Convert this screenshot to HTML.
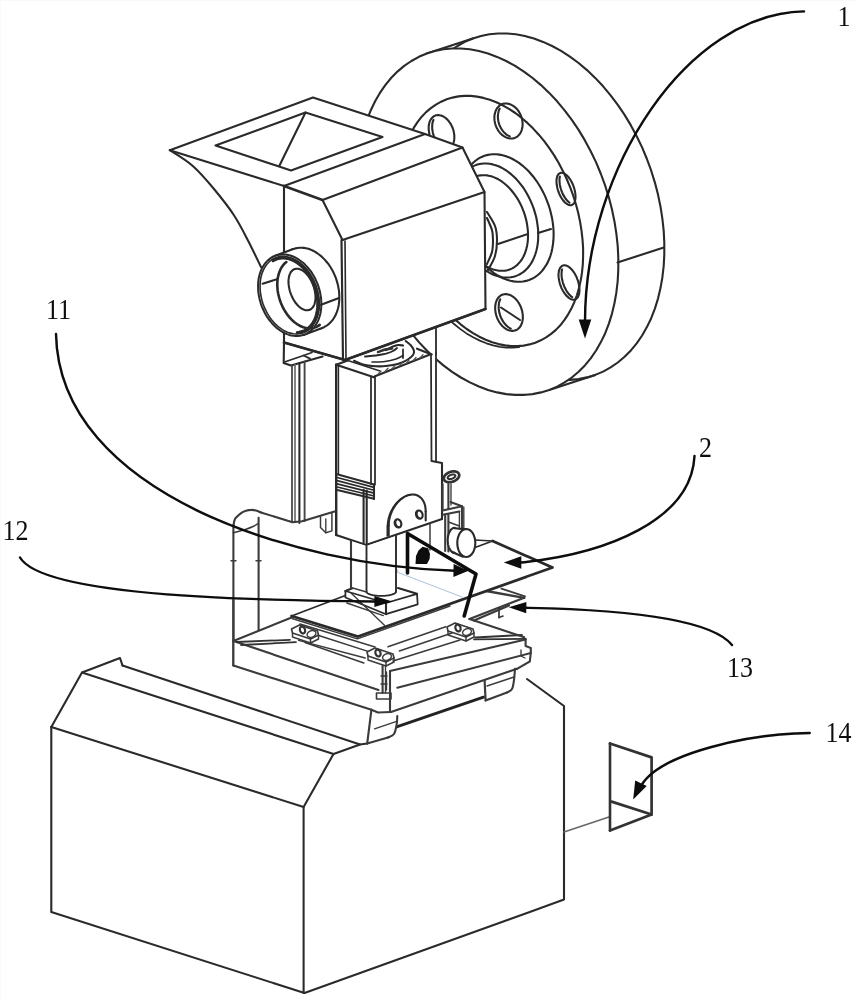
<!DOCTYPE html>
<html><head><meta charset="utf-8"><title>Figure</title>
<style>
html,body{margin:0;padding:0;background:#fff;}
body{width:856px;height:1000px;overflow:hidden;}
svg{display:block;}
svg path{stroke-linecap:round;stroke-linejoin:round;}
svg text{font-family:"Liberation Serif","DejaVu Serif",serif;}
</style></head><body>
<svg width="856" height="1000" viewBox="0 0 856 1000" fill="none">
<defs><filter id="soft" x="-2%" y="-2%" width="104%" height="104%"><feGaussianBlur stdDeviation="0.35"/></filter></defs>
<rect x="0" y="0" width="856" height="1000" fill="#ffffff" stroke="none"/>
<rect x="0" y="0" width="856" height="1" fill="#f8f8f8" stroke="none"/><rect x="0" y="0" width="1" height="1000" fill="#fafafa" stroke="none"/>
<g filter="url(#soft)">
<path d="M595.2,374.9 L587.0,377.4 L578.6,379.1 L570.0,379.9 L561.1,379.9 L552.2,379.1 L543.1,377.4 L534.0,374.9 L524.9,371.5 L515.9,367.4 L506.9,362.5 L498.1,356.8 L489.4,350.4 L481.0,343.3 L472.8,335.5 L464.9,327.1 L457.4,318.1 L450.2,308.6 L443.4,298.5 L437.1,288.0 L431.3,277.2 L425.9,266.0 L421.1,254.4 L416.8,242.7 L413.1,230.8 L410.0,218.8 L407.5,206.7 L405.6,194.6 L404.3,182.5 L403.7,170.6 L403.7,158.9 L404.3,147.4 L405.6,136.2 L407.5,125.3 L410.0,114.8 L413.1,104.8 L416.8,95.2 L421.1,86.3 L425.9,77.9 L431.3,70.1 L437.1,63.0 L443.4,56.6 L450.2,50.9 L457.4,46.0 L464.9,41.8 L472.8,38.5 L481.0,36.0 L489.4,34.3 L498.0,33.5 L506.9,33.5 L515.8,34.3 L524.9,36.0 L534.0,38.5 L543.1,41.9 L552.1,46.0 L561.1,50.9 L569.9,56.6 L578.6,63.0 L587.0,70.1 L595.2,77.9 L603.1,86.3 L610.6,95.3 L617.8,104.8 L624.6,114.9 L630.9,125.4 L636.7,136.2 L642.1,147.4 L646.9,159.0 L651.2,170.7 L654.9,182.6 L658.0,194.6 L660.5,206.7 L662.4,218.8 L663.7,230.9 L664.3,242.8 L664.3,254.5 L663.7,266.0 L662.4,277.2 L660.5,288.1 L658.0,298.6 L654.9,308.6 L651.2,318.2 L646.9,327.1 L642.1,335.5 L636.7,343.3 L630.9,350.4 L624.6,356.8 L617.8,362.5 L610.6,367.4 L603.1,371.6 L595.2,374.9Z" stroke="#2a2a2a" stroke-width="2.0925000000000002" />
<path d="M549.2,389.9 L595.2,374.9" stroke="#2a2a2a" stroke-width="2.0925000000000002" />
<path d="M426.8,53.5 L472.8,38.5" stroke="#2a2a2a" stroke-width="2.0925000000000002" />
<path d="M549.2,389.9 L541.0,392.4 L532.6,394.1 L524.0,394.9 L515.1,394.9 L506.2,394.1 L497.1,392.4 L488.0,389.9 L478.9,386.5 L469.9,382.4 L460.9,377.5 L452.1,371.8 L443.4,365.4 L435.0,358.3 L426.8,350.5 L418.9,342.1 L411.4,333.1 L404.2,323.6 L397.4,313.5 L391.1,303.0 L385.3,292.2 L379.9,281.0 L375.1,269.4 L370.8,257.7 L367.1,245.8 L364.0,233.8 L361.5,221.7 L359.6,209.6 L358.3,197.5 L357.7,185.6 L357.7,173.9 L358.3,162.4 L359.6,151.2 L361.5,140.3 L364.0,129.8 L367.1,119.8 L370.8,110.2 L375.1,101.3 L379.9,92.9 L385.3,85.1 L391.1,78.0 L397.4,71.6 L404.2,65.9 L411.4,61.0 L418.9,56.8 L426.8,53.5 L435.0,51.0 L443.4,49.3 L452.0,48.5 L460.9,48.5 L469.8,49.3 L478.9,51.0 L488.0,53.5 L497.1,56.9 L506.1,61.0 L515.1,65.9 L523.9,71.6 L532.6,78.0 L541.0,85.1 L549.2,92.9 L557.1,101.3 L564.6,110.3 L571.8,119.8 L578.6,129.9 L584.9,140.4 L590.7,151.2 L596.1,162.4 L600.9,174.0 L605.2,185.7 L608.9,197.6 L612.0,209.6 L614.5,221.7 L616.4,233.8 L617.7,245.9 L618.3,257.8 L618.3,269.5 L617.7,281.0 L616.4,292.2 L614.5,303.1 L612.0,313.6 L608.9,323.6 L605.2,333.2 L600.9,342.1 L596.1,350.5 L590.7,358.3 L584.9,365.4 L578.6,371.8 L571.8,377.5 L564.6,382.4 L557.1,386.6 L549.2,389.9Z" stroke="#2a2a2a" stroke-width="2.0925000000000002" fill="#fff"/>
<path d="M617.5,262.5 L663.8,247.5" stroke="#2a2a2a" stroke-width="2.0925000000000002" />
<path d="M535.3,342.7 L529.5,344.4 L523.6,345.6 L517.5,346.1 L511.3,346.1 L505.0,345.4 L498.6,344.1 L492.2,342.3 L485.7,339.8 L479.3,336.7 L473.0,333.1 L466.7,329.0 L460.6,324.3 L454.6,319.1 L448.8,313.4 L443.2,307.3 L437.8,300.8 L432.7,293.9 L427.8,286.6 L423.3,279.0 L419.1,271.1 L415.3,263.0 L411.8,254.6 L408.7,246.1 L406.0,237.5 L403.7,228.8 L401.9,220.1 L400.5,211.4 L399.5,202.7 L398.9,194.1 L398.9,185.6 L399.2,177.3 L400.0,169.3 L401.3,161.4 L403.0,153.9 L405.1,146.7 L407.7,139.8 L410.6,133.4 L414.0,127.4 L417.7,121.8 L421.7,116.7 L426.1,112.1 L430.9,108.1 L435.9,104.6 L441.2,101.7 L446.7,99.3 L452.5,97.6 L458.4,96.4 L464.5,95.9 L470.7,95.9 L477.0,96.6 L483.4,97.9 L489.8,99.7 L496.3,102.2 L502.7,105.3 L509.0,108.9 L515.3,113.0 L521.4,117.7 L527.4,122.9 L533.2,128.6 L538.8,134.7 L544.2,141.2 L549.3,148.1 L554.2,155.4 L558.7,163.0 L562.9,170.9 L566.7,179.0 L570.2,187.4 L573.3,195.9 L576.0,204.5 L578.3,213.2 L580.1,221.9 L581.5,230.6 L582.5,239.3 L583.1,247.9 L583.1,256.4 L582.8,264.7 L582.0,272.7 L580.7,280.6 L579.0,288.1 L576.9,295.3 L574.3,302.2 L571.4,308.6 L568.0,314.6 L564.3,320.2 L560.3,325.3 L555.9,329.9 L551.1,333.9 L546.1,337.4 L540.8,340.3 L535.3,342.7Z" stroke="#2a2a2a" stroke-width="2.0925000000000002" />
<path d="M519.1,347.1 L512.8,347.7 L506.3,347.6 L499.7,346.8 L493.1,345.4 L486.4,343.3 L479.8,340.6 L473.1,337.3 L466.5,333.4 L460.1,328.9 L453.8,323.8 L447.6,318.3 L441.7,312.2 L435.9,305.6" stroke="#2a2a2a" stroke-width="1.7550000000000001" />
<path d="M514.7,137.9 L513.8,138.2 L512.8,138.4 L511.9,138.5 L510.9,138.5 L509.9,138.5 L509.0,138.3 L508.0,138.1 L507.0,137.8 L506.0,137.4 L505.1,136.9 L504.1,136.4 L503.2,135.7 L502.3,135.1 L501.4,134.3 L500.6,133.5 L499.8,132.6 L499.0,131.6 L498.3,130.6 L497.7,129.6 L497.1,128.5 L496.5,127.4 L496.0,126.2 L495.6,125.0 L495.2,123.8 L494.9,122.6 L494.7,121.4 L494.5,120.2 L494.4,118.9 L494.4,117.7 L494.4,116.5 L494.5,115.4 L494.7,114.2 L495.0,113.1 L495.3,112.0 L495.6,111.0 L496.1,110.0 L496.6,109.1 L497.1,108.2 L497.7,107.4 L498.4,106.7 L499.1,106.0 L499.8,105.4 L500.6,104.9 L501.5,104.4 L502.3,104.1 L503.2,103.8 L504.2,103.6 L505.1,103.5 L506.1,103.5 L507.1,103.5 L508.0,103.7 L509.0,103.9 L510.0,104.2 L511.0,104.6 L511.9,105.1 L512.9,105.6 L513.8,106.3 L514.7,106.9 L515.6,107.7 L516.4,108.5 L517.2,109.4 L518.0,110.4 L518.7,111.4 L519.3,112.4 L519.9,113.5 L520.5,114.6 L521.0,115.8 L521.4,117.0 L521.8,118.2 L522.1,119.4 L522.3,120.6 L522.5,121.8 L522.6,123.1 L522.6,124.3 L522.6,125.5 L522.5,126.6 L522.3,127.8 L522.0,128.9 L521.7,130.0 L521.4,131.0 L520.9,132.0 L520.4,132.9 L519.9,133.8 L519.3,134.6 L518.6,135.3 L517.9,136.0 L517.2,136.6 L516.4,137.1 L515.5,137.6 L514.7,137.9Z" stroke="#2a2a2a" stroke-width="2.0925000000000002" />
<path d="M509.8,136.4 L508.8,135.9 L507.8,135.4 L506.9,134.8 L505.9,134.1 L505.1,133.3 L504.2,132.5 L503.4,131.6 L502.6,130.6 L501.9,129.6 L501.2,128.5 L500.6,127.4 L500.0,126.3 L499.5,125.1 L499.1,123.9 L498.7,122.7 L498.4,121.5 L498.2,120.2 L498.0,119.0 L497.9,117.7 L497.9,116.5 L497.9,115.3 L498.1,114.1 L498.3,112.9 L498.5,111.8 L498.8,110.7 L499.2,109.7 L499.7,108.7" stroke="#2a2a2a" stroke-width="2.0925000000000002" />
<path d="M571.8,205.0 L571.3,205.1 L570.7,205.2 L570.1,205.2 L569.5,205.1 L568.9,204.9 L568.3,204.7 L567.6,204.4 L566.9,204.0 L566.3,203.5 L565.6,203.0 L565.0,202.4 L564.3,201.7 L563.7,201.0 L563.0,200.2 L562.4,199.4 L561.8,198.5 L561.2,197.5 L560.6,196.5 L560.1,195.5 L559.6,194.5 L559.1,193.4 L558.7,192.3 L558.3,191.2 L557.9,190.1 L557.6,188.9 L557.3,187.8 L557.1,186.7 L556.9,185.6 L556.7,184.5 L556.6,183.4 L556.5,182.3 L556.5,181.3 L556.5,180.3 L556.6,179.4 L556.7,178.5 L556.9,177.7 L557.1,176.9 L557.3,176.2 L557.6,175.5 L558.0,174.9 L558.3,174.4 L558.7,173.9 L559.2,173.6 L559.7,173.3 L560.2,173.0 L560.7,172.9 L561.3,172.8 L561.9,172.8 L562.5,172.9 L563.1,173.1 L563.7,173.3 L564.4,173.6 L565.1,174.0 L565.7,174.5 L566.4,175.0 L567.0,175.6 L567.7,176.3 L568.3,177.0 L569.0,177.8 L569.6,178.6 L570.2,179.5 L570.8,180.5 L571.4,181.5 L571.9,182.5 L572.4,183.5 L572.9,184.6 L573.3,185.7 L573.7,186.8 L574.1,187.9 L574.4,189.1 L574.7,190.2 L574.9,191.3 L575.1,192.4 L575.3,193.5 L575.4,194.6 L575.5,195.7 L575.5,196.7 L575.5,197.7 L575.4,198.6 L575.3,199.5 L575.1,200.3 L574.9,201.1 L574.7,201.8 L574.4,202.5 L574.0,203.1 L573.7,203.6 L573.3,204.1 L572.8,204.4 L572.3,204.7 L571.8,205.0Z" stroke="#2a2a2a" stroke-width="2.0925000000000002" />
<path d="M569.5,202.7 L568.8,202.1 L568.1,201.5 L567.4,200.9 L566.8,200.1 L566.1,199.3 L565.5,198.5 L564.9,197.6 L564.3,196.6 L563.7,195.6 L563.1,194.6 L562.6,193.5 L562.1,192.4 L561.7,191.3 L561.3,190.2 L560.9,189.0 L560.6,187.9 L560.3,186.7 L560.0,185.6 L559.8,184.4 L559.7,183.3 L559.6,182.2 L559.5,181.2 L559.5,180.1 L559.5,179.2 L559.6,178.2 L559.7,177.3 L559.9,176.5" stroke="#2a2a2a" stroke-width="2.0925000000000002" />
<path d="M575.2,299.4 L574.6,299.6 L573.9,299.7 L573.3,299.7 L572.6,299.6 L571.9,299.4 L571.2,299.2 L570.5,298.9 L569.7,298.5 L569.0,298.0 L568.3,297.4 L567.6,296.8 L566.8,296.1 L566.1,295.3 L565.4,294.5 L564.8,293.6 L564.1,292.7 L563.5,291.7 L562.9,290.7 L562.3,289.6 L561.7,288.5 L561.2,287.3 L560.8,286.2 L560.3,285.0 L559.9,283.8 L559.6,282.6 L559.3,281.4 L559.1,280.2 L558.9,279.0 L558.7,277.9 L558.6,276.7 L558.5,275.6 L558.5,274.5 L558.6,273.5 L558.7,272.5 L558.8,271.5 L559.0,270.6 L559.3,269.8 L559.6,269.0 L559.9,268.3 L560.3,267.7 L560.8,267.1 L561.2,266.6 L561.7,266.2 L562.3,265.8 L562.8,265.6 L563.4,265.4 L564.1,265.3 L564.7,265.3 L565.4,265.4 L566.1,265.6 L566.8,265.8 L567.5,266.1 L568.3,266.5 L569.0,267.0 L569.7,267.6 L570.4,268.2 L571.2,268.9 L571.9,269.7 L572.6,270.5 L573.2,271.4 L573.9,272.3 L574.5,273.3 L575.1,274.3 L575.7,275.4 L576.3,276.5 L576.8,277.7 L577.2,278.8 L577.7,280.0 L578.1,281.2 L578.4,282.4 L578.7,283.6 L578.9,284.8 L579.1,286.0 L579.3,287.1 L579.4,288.3 L579.5,289.4 L579.5,290.5 L579.4,291.5 L579.3,292.5 L579.2,293.5 L579.0,294.4 L578.7,295.2 L578.4,296.0 L578.1,296.7 L577.7,297.3 L577.2,297.9 L576.8,298.4 L576.3,298.8 L575.7,299.2 L575.2,299.4Z" stroke="#2a2a2a" stroke-width="2.0925000000000002" />
<path d="M572.2,297.1 L571.4,296.6 L570.7,295.9 L570.0,295.2 L569.2,294.5 L568.5,293.6 L567.8,292.7 L567.2,291.8 L566.5,290.8 L565.9,289.7 L565.3,288.6 L564.8,287.5 L564.2,286.4 L563.8,285.2 L563.3,284.0 L562.9,282.8 L562.6,281.5 L562.3,280.3 L562.0,279.1 L561.8,277.9 L561.7,276.7 L561.6,275.6 L561.5,274.4 L561.6,273.3 L561.6,272.3 L561.7,271.3 L561.9,270.3 L562.1,269.4" stroke="#2a2a2a" stroke-width="2.0925000000000002" />
<path d="M515.5,330.4 L514.6,330.6 L513.7,330.8 L512.8,330.9 L511.9,330.9 L510.9,330.8 L510.0,330.6 L509.0,330.4 L508.0,330.0 L507.1,329.6 L506.1,329.0 L505.2,328.4 L504.3,327.8 L503.4,327.0 L502.5,326.2 L501.7,325.3 L500.9,324.3 L500.1,323.3 L499.4,322.2 L498.7,321.1 L498.1,320.0 L497.5,318.8 L497.0,317.6 L496.6,316.3 L496.2,315.1 L495.8,313.8 L495.6,312.5 L495.4,311.2 L495.2,309.9 L495.2,308.7 L495.2,307.4 L495.2,306.2 L495.4,305.0 L495.6,303.9 L495.8,302.7 L496.2,301.7 L496.6,300.7 L497.0,299.7 L497.5,298.8 L498.1,298.0 L498.7,297.2 L499.4,296.6 L500.1,296.0 L500.9,295.4 L501.7,295.0 L502.5,294.6 L503.4,294.4 L504.3,294.2 L505.2,294.1 L506.1,294.1 L507.1,294.2 L508.0,294.4 L509.0,294.6 L510.0,295.0 L510.9,295.4 L511.9,296.0 L512.8,296.6 L513.7,297.2 L514.6,298.0 L515.5,298.8 L516.3,299.7 L517.1,300.7 L517.9,301.7 L518.6,302.8 L519.3,303.9 L519.9,305.0 L520.5,306.2 L521.0,307.4 L521.4,308.7 L521.8,309.9 L522.2,311.2 L522.4,312.5 L522.6,313.8 L522.8,315.1 L522.8,316.3 L522.8,317.6 L522.8,318.8 L522.6,320.0 L522.4,321.1 L522.2,322.3 L521.8,323.3 L521.4,324.3 L521.0,325.3 L520.5,326.2 L519.9,327.0 L519.3,327.8 L518.6,328.4 L517.9,329.0 L517.1,329.6 L516.3,330.0 L515.5,330.4Z" stroke="#2a2a2a" stroke-width="2.0925000000000002" />
<path d="M510.8,328.6 L509.8,328.1 L508.9,327.5 L507.9,326.8 L507.0,326.0 L506.1,325.2 L505.3,324.3 L504.5,323.3 L503.7,322.3 L502.9,321.2 L502.3,320.1 L501.6,318.9 L501.0,317.7 L500.5,316.5 L500.1,315.2 L499.7,313.9 L499.3,312.6 L499.1,311.3 L498.9,310.0 L498.7,308.7 L498.7,307.4 L498.7,306.2 L498.8,304.9 L498.9,303.7 L499.1,302.5 L499.4,301.4 L499.8,300.3 L500.2,299.3" stroke="#2a2a2a" stroke-width="2.0925000000000002" />
<path d="M501.0,307.5 L520.0,320.0" stroke="#2a2a2a" stroke-width="2.0925000000000002" />
<path d="M447.7,149.4 L446.9,149.7 L446.0,149.8 L445.2,149.9 L444.3,149.9 L443.4,149.8 L442.5,149.6 L441.6,149.4 L440.7,149.0 L439.9,148.6 L439.0,148.1 L438.1,147.5 L437.2,146.9 L436.4,146.1 L435.6,145.4 L434.8,144.5 L434.1,143.6 L433.4,142.6 L432.7,141.6 L432.0,140.6 L431.5,139.5 L430.9,138.3 L430.4,137.2 L430.0,136.0 L429.6,134.8 L429.3,133.6 L429.1,132.4 L428.9,131.2 L428.7,130.0 L428.7,128.8 L428.7,127.6 L428.7,126.4 L428.8,125.3 L429.0,124.2 L429.2,123.2 L429.5,122.2 L429.9,121.2 L430.3,120.3 L430.8,119.5 L431.3,118.7 L431.9,118.0 L432.5,117.4 L433.1,116.8 L433.8,116.3 L434.6,115.9 L435.3,115.6 L436.1,115.3 L437.0,115.2 L437.8,115.1 L438.7,115.1 L439.6,115.2 L440.5,115.4 L441.4,115.6 L442.3,116.0 L443.1,116.4 L444.0,116.9 L444.9,117.5 L445.8,118.1 L446.6,118.9 L447.4,119.6 L448.2,120.5 L448.9,121.4 L449.6,122.4 L450.3,123.4 L451.0,124.4 L451.5,125.5 L452.1,126.7 L452.6,127.8 L453.0,129.0 L453.4,130.2 L453.7,131.4 L453.9,132.6 L454.1,133.8 L454.3,135.0 L454.3,136.2 L454.3,137.4 L454.3,138.6 L454.2,139.7 L454.0,140.8 L453.8,141.8 L453.5,142.8 L453.1,143.8 L452.7,144.7 L452.2,145.5 L451.7,146.3 L451.1,147.0 L450.5,147.6 L449.9,148.2 L449.2,148.7 L448.4,149.1 L447.7,149.4Z" stroke="#2a2a2a" stroke-width="2.0925000000000002" />
<path d="M443.6,147.6 L442.7,147.1 L441.8,146.5 L440.9,145.9 L440.0,145.2 L439.2,144.4 L438.4,143.5 L437.7,142.6 L436.9,141.6 L436.2,140.6 L435.6,139.5 L435.0,138.4 L434.4,137.3 L433.9,136.1 L433.5,134.9 L433.1,133.7 L432.8,132.4 L432.6,131.2 L432.4,130.0 L432.2,128.7 L432.2,127.5 L432.2,126.3 L432.2,125.2 L432.4,124.0 L432.5,122.9 L432.8,121.9 L433.1,120.9 L433.5,119.9" stroke="#2a2a2a" stroke-width="2.0925000000000002" />
<path d="M529.1,280.0 L526.1,280.9 L523.1,281.5 L520.0,281.8 L516.8,281.8 L513.6,281.4 L510.3,280.8 L507.0,279.8 L503.7,278.6 L500.5,277.0 L497.2,275.2 L494.0,273.1 L490.9,270.7 L487.8,268.0 L484.8,265.2 L482.0,262.0 L479.2,258.7 L476.6,255.2 L474.2,251.5 L471.8,247.6 L469.7,243.6 L467.7,239.4 L466.0,235.2 L464.4,230.9 L463.0,226.5 L461.9,222.1 L460.9,217.6 L460.2,213.1 L459.7,208.7 L459.4,204.3 L459.4,200.0 L459.6,195.8 L460.0,191.7 L460.7,187.7 L461.5,183.8 L462.6,180.2 L463.9,176.7 L465.4,173.4 L467.2,170.3 L469.1,167.5 L471.1,164.9 L473.4,162.5 L475.8,160.5 L478.4,158.7 L481.1,157.2 L483.9,156.0 L486.9,155.1 L489.9,154.5 L493.0,154.2 L496.2,154.2 L499.4,154.6 L502.7,155.2 L506.0,156.2 L509.3,157.4 L512.5,159.0 L515.8,160.8 L519.0,162.9 L522.1,165.3 L525.2,168.0 L528.2,170.8 L531.0,174.0 L533.8,177.3 L536.4,180.8 L538.8,184.5 L541.2,188.4 L543.3,192.4 L545.3,196.6 L547.0,200.8 L548.6,205.1 L550.0,209.5 L551.1,213.9 L552.1,218.4 L552.8,222.9 L553.3,227.3 L553.6,231.7 L553.6,236.0 L553.4,240.2 L553.0,244.3 L552.3,248.3 L551.5,252.2 L550.4,255.8 L549.1,259.3 L547.6,262.6 L545.8,265.7 L543.9,268.5 L541.9,271.1 L539.6,273.5 L537.2,275.5 L534.6,277.3 L531.9,278.8 L529.1,280.0Z" stroke="#2a2a2a" stroke-width="2.0925000000000002" />
<path d="M516.2,275.9 L513.5,276.7 L510.8,277.3 L508.0,277.5 L505.2,277.5 L502.3,277.2 L499.3,276.6 L496.4,275.8 L493.4,274.7 L490.5,273.3 L487.6,271.7 L484.7,269.8 L481.9,267.6 L479.2,265.3 L476.5,262.7 L473.9,259.9 L471.5,256.9 L469.1,253.8 L466.9,250.5 L464.9,247.0 L463.0,243.4 L461.2,239.7 L459.6,235.9 L458.2,232.1 L457.0,228.1 L455.9,224.2 L455.1,220.2 L454.5,216.2 L454.0,212.3 L453.8,208.3 L453.8,204.5 L453.9,200.7 L454.3,197.0 L454.9,193.4 L455.7,190.0 L456.7,186.7 L457.9,183.6 L459.2,180.6 L460.8,177.9 L462.5,175.3 L464.3,173.0 L466.4,170.9 L468.5,169.1 L470.9,167.5 L473.3,166.1 L475.8,165.1 L478.5,164.3 L481.2,163.7 L484.0,163.5 L486.8,163.5 L489.7,163.8 L492.7,164.4 L495.6,165.2 L498.6,166.3 L501.5,167.7 L504.4,169.3 L507.3,171.2 L510.1,173.4 L512.8,175.7 L515.5,178.3 L518.1,181.1 L520.5,184.1 L522.9,187.2 L525.1,190.5 L527.1,194.0 L529.0,197.6 L530.8,201.3 L532.4,205.1 L533.8,208.9 L535.0,212.9 L536.1,216.8 L536.9,220.8 L537.5,224.8 L538.0,228.7 L538.2,232.7 L538.2,236.5 L538.1,240.3 L537.7,244.0 L537.1,247.6 L536.3,251.0 L535.3,254.3 L534.1,257.4 L532.8,260.4 L531.2,263.1 L529.5,265.7 L527.7,268.0 L525.6,270.1 L523.5,271.9 L521.1,273.5 L518.7,274.9 L516.2,275.9Z" stroke="#2a2a2a" stroke-width="2.0925000000000002" />
<path d="M509.6,269.5 L507.4,270.2 L505.1,270.6 L502.8,270.8 L500.4,270.8 L498.0,270.6 L495.6,270.1 L493.1,269.4 L490.6,268.4 L488.2,267.3 L485.7,265.9 L483.3,264.3 L481.0,262.5 L478.7,260.5 L476.5,258.4 L474.3,256.0 L472.3,253.5 L470.3,250.9 L468.4,248.1 L466.7,245.2 L465.1,242.2 L463.6,239.1 L462.3,235.9 L461.1,232.7 L460.1,229.4 L459.2,226.0 L458.5,222.7 L458.0,219.4 L457.6,216.0 L457.4,212.8 L457.4,209.5 L457.5,206.3 L457.8,203.3 L458.3,200.3 L459.0,197.4 L459.8,194.6 L460.8,192.0 L461.9,189.5 L463.2,187.2 L464.6,185.1 L466.2,183.2 L467.9,181.4 L469.7,179.8 L471.6,178.5 L473.6,177.4 L475.8,176.5 L478.0,175.8 L480.3,175.4 L482.6,175.2 L485.0,175.2 L487.4,175.4 L489.8,175.9 L492.3,176.6 L494.8,177.6 L497.2,178.7 L499.7,180.1 L502.1,181.7 L504.4,183.5 L506.7,185.5 L508.9,187.6 L511.1,190.0 L513.1,192.5 L515.1,195.1 L517.0,197.9 L518.7,200.8 L520.3,203.8 L521.8,206.9 L523.1,210.1 L524.3,213.3 L525.3,216.6 L526.2,220.0 L526.9,223.3 L527.4,226.6 L527.8,230.0 L528.0,233.2 L528.0,236.5 L527.9,239.7 L527.6,242.7 L527.1,245.7 L526.4,248.6 L525.6,251.4 L524.6,254.0 L523.5,256.5 L522.2,258.8 L520.8,260.9 L519.2,262.8 L517.5,264.6 L515.7,266.2 L513.8,267.5 L511.8,268.6 L509.6,269.5Z" stroke="#2a2a2a" stroke-width="2.0925000000000002" />
<path d="M487.0,212.0 C488.3,214.3 493.3,221.3 495.0,226.0 C496.7,230.7 497.0,235.0 497.0,240.0 C497.0,245.0 496.5,251.0 495.0,256.0 C493.5,261.0 489.2,267.7 488.0,270.0" stroke="#2a2a2a" stroke-width="2.0925000000000002" />
<path d="M487.0,218.0 C487.8,220.0 491.0,226.3 492.0,230.0 C493.0,233.7 493.0,236.3 493.0,240.0 C493.0,243.7 493.0,248.0 492.0,252.0 C491.0,256.0 487.8,262.0 487.0,264.0" stroke="#2a2a2a" stroke-width="2.0925000000000002" />
<path d="M498.0,244.0 L528.0,234.0" stroke="#2a2a2a" stroke-width="2.0925000000000002" />
<path d="M538.0,233.0 L551.0,229.0" stroke="#2a2a2a" stroke-width="2.0925000000000002" />
<polygon points="169.8,150.2 313.0,97.6 425.0,134.0 462.5,147.5 484.5,192.0 485.5,309.0 345.0,360.0 284.0,342.5 284.0,186.0" fill="#fff" stroke="none" />
<path d="M169.8,150.2 L313.0,97.6 L425.0,134.0 L284.0,186.0 L169.8,150.2" stroke="#2a2a2a" stroke-width="2.0925000000000002" />
<path d="M215.5,145.5 L305.5,112.5 L382.5,137.0 L291.0,170.5 L215.5,145.5" stroke="#2a2a2a" stroke-width="2.0925000000000002" />
<path d="M305.5,112.5 L279.5,165.5" stroke="#2a2a2a" stroke-width="2.0925000000000002" />
<path d="M425.0,134.0 L462.5,147.5 L484.5,192.0 L485.5,309.0 L345.0,360.0 L284.0,342.5" stroke="#2a2a2a" stroke-width="2.0925000000000002" />
<path d="M485.5,309.0 L345.0,360.0 L284.0,342.5" stroke="#2a2a2a" stroke-width="2.7" />
<path d="M284.0,186.0 L322.5,200.0" stroke="#2a2a2a" stroke-width="2.7" />
<path d="M322.5,200.0 L342.5,240.0" stroke="#2a2a2a" stroke-width="2.0925000000000002" />
<path d="M322.5,200.0 L462.5,147.5" stroke="#2a2a2a" stroke-width="2.0925000000000002" />
<path d="M342.5,240.0 L484.5,192.0" stroke="#2a2a2a" stroke-width="2.0925000000000002" />
<path d="M341.5,240.0 L343.0,360.0" stroke="#2a2a2a" stroke-width="2.16" />
<path d="M345.0,241.0 L346.0,359.0" stroke="#2a2a2a" stroke-width="1.62" />
<path d="M284.0,186.0 L284.0,252.0" stroke="#2a2a2a" stroke-width="2.0925000000000002" />
<path d="M284.0,333.0 L284.0,342.5" stroke="#2a2a2a" stroke-width="2.0925000000000002" />
<path d="M169.8,150.2 C173.6,152.8 185.4,159.5 192.8,166.0 C200.2,172.5 207.2,180.8 214.0,189.0 C220.8,197.2 228.1,206.2 233.8,215.0 C239.6,223.8 244.0,232.8 248.5,241.5 C253.0,250.2 258.9,262.8 261.0,267.0" stroke="#2a2a2a" stroke-width="2.0925000000000002" />
<path d="M322.1,328.0 L320.1,328.6 L318.0,329.0 L315.9,329.2 L313.7,329.3 L311.6,329.1 L309.4,328.7 L307.1,328.2 L304.9,327.4 L302.8,326.5 L300.6,325.3 L298.5,324.0 L296.4,322.5 L294.3,320.9 L292.4,319.1 L290.5,317.1 L288.7,315.0 L286.9,312.8 L285.3,310.5 L283.8,308.0 L282.4,305.5 L281.2,302.8 L280.0,300.1 L279.0,297.4 L278.2,294.6 L277.4,291.8 L276.9,288.9 L276.4,286.1 L276.2,283.2 L276.1,280.4 L276.1,277.7 L276.3,274.9 L276.6,272.3 L277.1,269.7 L277.8,267.2 L278.6,264.9 L279.5,262.6 L280.6,260.5 L281.8,258.5 L283.1,256.6 L284.6,254.9 L286.1,253.4 L287.8,252.0 L289.6,250.8 L291.4,249.8 L293.3,249.0 L295.3,248.4 L297.4,248.0 L299.5,247.8 L301.7,247.7 L303.8,247.9 L306.0,248.3 L308.3,248.8 L310.5,249.6 L312.6,250.5 L314.8,251.7 L316.9,253.0 L319.0,254.5 L321.1,256.1 L323.0,257.9 L324.9,259.9 L326.7,262.0 L328.5,264.2 L330.1,266.5 L331.6,269.0 L333.0,271.5 L334.2,274.2 L335.4,276.9 L336.4,279.6 L337.2,282.4 L338.0,285.2 L338.5,288.1 L339.0,290.9 L339.2,293.8 L339.3,296.6 L339.3,299.3 L339.1,302.1 L338.8,304.7 L338.3,307.3 L337.6,309.8 L336.8,312.1 L335.9,314.4 L334.8,316.5 L333.6,318.5 L332.3,320.4 L330.8,322.1 L329.3,323.6 L327.6,325.0 L325.8,326.2 L324.0,327.2 L322.1,328.0Z" stroke="#2a2a2a" stroke-width="2.0925000000000002" fill="#fff"/>
<polygon points="275.3,255.7 293.3,249.0 322.1,328.0 304.1,334.7" fill="#fff" stroke="none" />
<path d="M275.3,255.7 L293.3,249.0" stroke="#2a2a2a" stroke-width="2.0925000000000002" />
<path d="M304.1,334.7 L322.1,328.0" stroke="#2a2a2a" stroke-width="2.0925000000000002" />
<path d="M304.1,334.7 L302.1,335.3 L300.0,335.7 L297.9,335.9 L295.7,336.0 L293.6,335.8 L291.4,335.4 L289.1,334.9 L286.9,334.1 L284.8,333.2 L282.6,332.0 L280.5,330.7 L278.4,329.2 L276.3,327.6 L274.4,325.8 L272.5,323.8 L270.7,321.7 L268.9,319.5 L267.3,317.2 L265.8,314.7 L264.4,312.2 L263.2,309.5 L262.0,306.8 L261.0,304.1 L260.2,301.3 L259.4,298.5 L258.9,295.6 L258.4,292.8 L258.2,289.9 L258.1,287.1 L258.1,284.4 L258.3,281.6 L258.6,279.0 L259.1,276.4 L259.8,273.9 L260.6,271.6 L261.5,269.3 L262.6,267.2 L263.8,265.2 L265.1,263.3 L266.6,261.6 L268.1,260.1 L269.8,258.7 L271.6,257.5 L273.4,256.5 L275.3,255.7 L277.3,255.1 L279.4,254.7 L281.5,254.5 L283.7,254.4 L285.8,254.6 L288.0,255.0 L290.3,255.5 L292.5,256.3 L294.6,257.2 L296.8,258.4 L298.9,259.7 L301.0,261.2 L303.1,262.8 L305.0,264.6 L306.9,266.6 L308.7,268.7 L310.5,270.9 L312.1,273.2 L313.6,275.7 L315.0,278.2 L316.2,280.9 L317.4,283.6 L318.4,286.3 L319.2,289.1 L320.0,291.9 L320.5,294.8 L321.0,297.6 L321.2,300.5 L321.3,303.3 L321.3,306.0 L321.1,308.8 L320.8,311.4 L320.3,314.0 L319.6,316.5 L318.8,318.8 L317.9,321.1 L316.8,323.2 L315.6,325.2 L314.3,327.1 L312.8,328.8 L311.3,330.3 L309.6,331.7 L307.8,332.9 L306.0,333.9 L304.1,334.7Z" stroke="#2a2a2a" stroke-width="2.0250000000000004" fill="#fff"/>
<path d="M303.4,332.8 L301.5,333.4 L299.6,333.8 L297.6,334.0 L295.6,334.0 L293.6,333.8 L291.5,333.4 L289.4,332.9 L287.4,332.2 L285.3,331.2 L283.3,330.1 L281.3,328.9 L279.3,327.5 L277.4,325.9 L275.5,324.2 L273.8,322.3 L272.0,320.3 L270.4,318.2 L268.9,315.9 L267.5,313.6 L266.2,311.2 L265.0,308.7 L263.9,306.1 L262.9,303.5 L262.1,300.8 L261.4,298.1 L260.9,295.4 L260.4,292.7 L260.2,290.0 L260.1,287.3 L260.1,284.7 L260.2,282.1 L260.5,279.6 L261.0,277.2 L261.6,274.8 L262.3,272.6 L263.2,270.4 L264.2,268.4 L265.3,266.5 L266.5,264.8 L267.8,263.2 L269.3,261.7 L270.8,260.4 L272.5,259.3 L274.2,258.4 L276.0,257.6 L277.9,257.0 L279.8,256.6 L281.8,256.4 L283.8,256.4 L285.8,256.6 L287.9,257.0 L290.0,257.5 L292.0,258.2 L294.1,259.2 L296.1,260.3 L298.1,261.5 L300.1,262.9 L302.0,264.5 L303.9,266.2 L305.6,268.1 L307.4,270.1 L309.0,272.2 L310.5,274.5 L311.9,276.8 L313.2,279.2 L314.4,281.7 L315.5,284.3 L316.5,286.9 L317.3,289.6 L318.0,292.3 L318.5,295.0 L319.0,297.7 L319.2,300.4 L319.3,303.1 L319.3,305.7 L319.2,308.3 L318.9,310.8 L318.4,313.2 L317.8,315.6 L317.1,317.8 L316.2,320.0 L315.2,322.0 L314.1,323.9 L312.9,325.6 L311.6,327.2 L310.1,328.7 L308.6,330.0 L306.9,331.1 L305.2,332.0 L303.4,332.8Z" stroke="#2a2a2a" stroke-width="1.62" />
<path d="M273.2,260.6 L274.8,259.7 L276.5,259.0 L278.3,258.5 L280.1,258.1 L282.0,257.9 L283.9,257.9 L285.8,258.1 L287.8,258.5 L289.8,259.0 L291.7,259.7 L293.7,260.6 L295.6,261.7 L297.5,262.9 L299.4,264.3 L301.2,265.8 L303.0,267.5 L304.7,269.3 L306.3,271.2 L307.9,273.2 L309.3,275.4 L310.7,277.7 L311.9,280.0 L313.1,282.4 L314.1,284.9 L315.0,287.4 L315.8,290.0 L316.5,292.6 L317.0,295.2 L317.5,297.8 L317.7,300.3 L317.9,302.9 L317.8,305.4 L317.7,307.9 L317.4,310.3 L317.0,312.7 L316.5,314.9 L315.8,317.1 L315.0,319.1 L314.1,321.1 L313.0,322.9 L311.9,324.6 L310.6,326.1 L309.2,327.5 L307.8,328.7 L306.2,329.8 L304.6,330.7 L302.9,331.4 L301.1,331.9 L299.3,332.3 L297.4,332.5" stroke="#2a2a2a" stroke-width="3.24" />
<path d="M319.7,324.9 L318.3,325.9 L316.9,326.7 L315.3,327.3 L313.7,327.8 L312.1,328.1 L310.4,328.3 L308.6,328.3 L306.9,328.1 L305.1,327.7 L303.3,327.2 L301.5,326.5 L299.7,325.7 L297.9,324.7 L296.2,323.5 L294.5,322.2 L292.8,320.8 L291.2,319.2 L289.6,317.5 L288.1,315.7 L286.7,313.8 L285.4,311.8 L284.1,309.6 L282.9,307.5 L281.9,305.2 L280.9,302.9 L280.0,300.5 L279.3,298.1 L278.7,295.7 L278.1,293.3 L277.7,290.9 L277.5,288.4 L277.3,286.0 L277.3,283.7 L277.4,281.4 L277.6,279.1 L278.0,277.0 L278.5,274.9 L279.1,272.9 L279.8,271.0 L280.6,269.2 L281.5,267.5 L282.6,265.9 L283.7,264.5 L284.9,263.2 L286.3,262.1" stroke="#2a2a2a" stroke-width="2.6" />
<path d="M309.4,309.9 L308.6,310.1 L307.8,310.3 L306.9,310.3 L306.0,310.2 L305.1,310.1 L304.2,309.8 L303.3,309.4 L302.3,309.0 L301.4,308.4 L300.4,307.8 L299.5,307.0 L298.6,306.2 L297.7,305.3 L296.8,304.3 L295.9,303.3 L295.1,302.1 L294.3,300.9 L293.6,299.7 L292.9,298.4 L292.2,297.1 L291.6,295.7 L291.0,294.3 L290.5,292.9 L290.0,291.5 L289.6,290.0 L289.3,288.5 L289.0,287.1 L288.8,285.7 L288.6,284.2 L288.5,282.9 L288.5,281.5 L288.5,280.2 L288.7,278.9 L288.8,277.7 L289.1,276.5 L289.4,275.4 L289.7,274.4 L290.2,273.4 L290.6,272.5 L291.2,271.7 L291.8,271.0 L292.4,270.4 L293.1,269.9 L293.8,269.4 L294.6,269.1 L295.4,268.9 L296.2,268.7 L297.1,268.7 L298.0,268.8 L298.9,268.9 L299.8,269.2 L300.7,269.6 L301.7,270.0 L302.6,270.6 L303.6,271.2 L304.5,272.0 L305.4,272.8 L306.3,273.7 L307.2,274.7 L308.1,275.7 L308.9,276.9 L309.7,278.1 L310.4,279.3 L311.1,280.6 L311.8,281.9 L312.4,283.3 L313.0,284.7 L313.5,286.1 L314.0,287.5 L314.4,289.0 L314.7,290.5 L315.0,291.9 L315.2,293.3 L315.4,294.8 L315.5,296.1 L315.5,297.5 L315.5,298.8 L315.3,300.1 L315.2,301.3 L314.9,302.5 L314.6,303.6 L314.3,304.6 L313.8,305.6 L313.4,306.5 L312.8,307.3 L312.2,308.0 L311.6,308.6 L310.9,309.1 L310.2,309.6 L309.4,309.9Z" stroke="#2a2a2a" stroke-width="2.0925000000000002" />
<path d="M262.6,283.7 L277.7,279.0" stroke="#2a2a2a" stroke-width="2.0925000000000002" />
<path d="M321.0,304.8 L339.0,298.0" stroke="#2a2a2a" stroke-width="2.0925000000000002" />
<polygon points="375.0,376.3 430.0,354.5 436.0,354.5 436.0,460.4 442.0,463.0 442.0,519.0 366.0,545.0 366.0,489.8 375.0,484.5" fill="#fff" stroke="none" />
<path d="M284.0,342.5 L283.7,362.9 L291.0,365.5 L322.6,356.5" stroke="#2a2a2a" stroke-width="2.0925000000000002" />
<path d="M284.5,362.0 L303.6,355.5 L310.0,358.6" stroke="#2a2a2a" stroke-width="1.7550000000000001" />
<path d="M303.6,355.5 L312.0,352.5" stroke="#2a2a2a" stroke-width="1.62" />
<path d="M292.0,365.5 L292.0,521.5" stroke="#444" stroke-width="1.7550000000000001" />
<path d="M295.0,364.5 L295.0,522.0" stroke="#666" stroke-width="1.62" />
<path d="M299.4,363.0 L299.4,523.0" stroke="#2a2a2a" stroke-width="2.0250000000000004" />
<path d="M304.6,361.5 L304.6,521.0" stroke="#444" stroke-width="1.89" />
<polygon points="336.2,364.7 374.0,377.3 374.0,484.5 366.0,489.8 366.0,545.0 336.2,535.0" fill="#fff" stroke="none" />
<path d="M336.2,364.7 L336.2,535.0" stroke="#2a2a2a" stroke-width="2.43" />
<path d="M338.5,366.0 L338.5,474.0" stroke="#2a2a2a" stroke-width="1.35" />
<path d="M336.2,364.7 L374.0,377.3" stroke="#2a2a2a" stroke-width="2.16" />
<path d="M347.8,360.5 L380.0,371.0" stroke="#2a2a2a" stroke-width="1.35" />
<path d="M336.2,364.7 L347.8,360.5" stroke="#2a2a2a" stroke-width="2.0925000000000002" />
<path d="M371.0,377.3 L371.0,484.0" stroke="#2a2a2a" stroke-width="1.7550000000000001" />
<path d="M375.0,376.3 L375.0,484.5" stroke="#2a2a2a" stroke-width="1.7550000000000001" />
<path d="M375.0,376.3 L430.0,354.5" stroke="#2a2a2a" stroke-width="2.0925000000000002" />
<path d="M431.0,354.5 L431.5,460.4" stroke="#2a2a2a" stroke-width="1.7550000000000001" />
<path d="M436.0,352.0 L436.0,461.0" stroke="#333" stroke-width="1.89" />
<path d="M336.2,474.0 L374.0,484.5" stroke="#2a2a2a" stroke-width="2.0250000000000004" />
<path d="M336.2,477.2 L374.0,487.4" stroke="#2a2a2a" stroke-width="1.62" />
<path d="M336.2,480.4 L374.0,490.3" stroke="#2a2a2a" stroke-width="1.62" />
<path d="M336.2,483.6 L374.0,493.1" stroke="#2a2a2a" stroke-width="1.62" />
<path d="M336.2,486.8 L374.0,496.0" stroke="#2a2a2a" stroke-width="1.62" />
<path d="M336.2,489.8 L374.0,498.7" stroke="#2a2a2a" stroke-width="2.0250000000000004" />
<path d="M374.0,484.5 L374.0,499.0" stroke="#2a2a2a" stroke-width="2.0925000000000002" />
<path d="M336.2,535.0 L366.0,545.0 L442.0,519.0" stroke="#2a2a2a" stroke-width="2.0925000000000002" />
<path d="M363.6,489.8 L363.6,544.0" stroke="#2a2a2a" stroke-width="2.0925000000000002" />
<path d="M366.7,490.5 L366.7,545.0" stroke="#2a2a2a" stroke-width="2.0925000000000002" />
<path d="M425.7,511.5 L425.6,509.7 L425.5,508.0 L425.2,506.3 L424.8,504.7 L424.3,503.2 L423.7,501.8 L423.0,500.5 L422.2,499.3 L421.3,498.2 L420.3,497.3 L419.2,496.5 L418.1,495.8 L416.9,495.2 L415.6,494.8 L414.3,494.6 L412.9,494.5 L411.5,494.5 L410.1,494.7 L408.7,495.0 L407.2,495.5 L405.7,496.1 L404.3,496.9 L402.9,497.8 L401.5,498.8 L400.1,499.9 L398.8,501.2 L397.5,502.5 L396.3,504.0 L395.2,505.6 L394.1,507.2 L393.1,508.9 L392.2,510.6 L391.4,512.5 L390.7,514.3 L390.1,516.2 L389.6,518.1 L389.2,519.9 L388.9,521.8 L388.8,523.7 L388.7,525.5" stroke="#2a2a2a" stroke-width="2.0925000000000002" />
<path d="M388.7,525.5 L388.7,535.5" stroke="#2a2a2a" stroke-width="2.0925000000000002" />
<path d="M425.7,511.5 L425.7,520.5" stroke="#2a2a2a" stroke-width="2.0925000000000002" />
<path d="M387.3,526.0 L387.3,536.0" stroke="#2a2a2a" stroke-width="1.62" />
<path d="M410.7,495.0 L409.9,495.0 L409.0,495.1 L408.2,495.3 L407.4,495.5 L406.5,495.8 L405.7,496.1 L404.8,496.5 L404.0,496.9 L403.1,497.3 L402.3,497.8 L401.5,498.3 L400.6,498.9 L399.8,499.6 L399.0,500.2 L398.3,500.9 L397.5,501.7 L396.8,502.5 L396.0,503.3 L395.3,504.1 L394.6,505.0 L394.0,505.9 L393.3,506.9 L392.7,507.8 L392.2,508.8 L391.6,509.8 L391.1,510.8 L390.6,511.9 L390.1,513.0 L389.7,514.0 L389.3,515.1 L389.0,516.2 L388.6,517.3 L388.3,518.4 L388.1,519.5 L387.9,520.6 L387.7,521.7 L387.6,522.8 L387.5,523.9 L387.4,524.9 L387.4,526.0" stroke="#2a2a2a" stroke-width="1.35" />
<path d="M399.4,527.3 L399.2,527.4 L399.0,527.5 L398.8,527.5 L398.6,527.5 L398.3,527.5 L398.1,527.5 L397.9,527.4 L397.6,527.3 L397.4,527.2 L397.2,527.1 L396.9,527.0 L396.7,526.9 L396.5,526.7 L396.3,526.5 L396.1,526.3 L395.9,526.1 L395.8,525.9 L395.6,525.7 L395.4,525.4 L395.3,525.2 L395.2,524.9 L395.0,524.6 L394.9,524.4 L394.9,524.1 L394.8,523.8 L394.7,523.5 L394.7,523.2 L394.7,522.9 L394.7,522.7 L394.7,522.4 L394.7,522.1 L394.7,521.8 L394.8,521.6 L394.9,521.3 L395.0,521.1 L395.1,520.9 L395.2,520.6 L395.3,520.4 L395.5,520.2 L395.6,520.1 L395.8,519.9 L396.0,519.8 L396.2,519.6 L396.4,519.5 L396.6,519.5 L396.8,519.4 L397.0,519.3 L397.2,519.3 L397.4,519.3 L397.7,519.3 L397.9,519.3 L398.1,519.4 L398.4,519.5 L398.6,519.6 L398.8,519.7 L399.1,519.8 L399.3,519.9 L399.5,520.1 L399.7,520.3 L399.9,520.5 L400.1,520.7 L400.2,520.9 L400.4,521.1 L400.6,521.4 L400.7,521.6 L400.8,521.9 L401.0,522.2 L401.1,522.4 L401.1,522.7 L401.2,523.0 L401.3,523.3 L401.3,523.6 L401.3,523.9 L401.3,524.1 L401.3,524.4 L401.3,524.7 L401.3,525.0 L401.2,525.2 L401.1,525.5 L401.0,525.7 L400.9,525.9 L400.8,526.2 L400.7,526.4 L400.5,526.6 L400.4,526.7 L400.2,526.9 L400.0,527.0 L399.8,527.2 L399.6,527.3 L399.4,527.3Z" stroke="#2a2a2a" stroke-width="2.0925000000000002" />
<path d="M420.7,518.5 L420.5,518.6 L420.3,518.7 L420.1,518.7 L419.9,518.7 L419.6,518.7 L419.4,518.7 L419.2,518.6 L418.9,518.5 L418.7,518.4 L418.5,518.3 L418.2,518.2 L418.0,518.1 L417.8,517.9 L417.6,517.7 L417.4,517.5 L417.2,517.3 L417.1,517.1 L416.9,516.9 L416.7,516.6 L416.6,516.4 L416.5,516.1 L416.3,515.8 L416.2,515.6 L416.2,515.3 L416.1,515.0 L416.0,514.7 L416.0,514.4 L416.0,514.1 L416.0,513.9 L416.0,513.6 L416.0,513.3 L416.0,513.0 L416.1,512.8 L416.2,512.5 L416.3,512.3 L416.4,512.1 L416.5,511.8 L416.6,511.6 L416.8,511.4 L416.9,511.3 L417.1,511.1 L417.3,511.0 L417.5,510.8 L417.7,510.7 L417.9,510.7 L418.1,510.6 L418.3,510.5 L418.5,510.5 L418.7,510.5 L419.0,510.5 L419.2,510.5 L419.4,510.6 L419.7,510.7 L419.9,510.8 L420.1,510.9 L420.4,511.0 L420.6,511.1 L420.8,511.3 L421.0,511.5 L421.2,511.7 L421.4,511.9 L421.5,512.1 L421.7,512.3 L421.9,512.6 L422.0,512.8 L422.1,513.1 L422.3,513.4 L422.4,513.6 L422.4,513.9 L422.5,514.2 L422.6,514.5 L422.6,514.8 L422.6,515.1 L422.6,515.3 L422.6,515.6 L422.6,515.9 L422.6,516.2 L422.5,516.4 L422.4,516.7 L422.3,516.9 L422.2,517.1 L422.1,517.4 L422.0,517.6 L421.8,517.8 L421.7,517.9 L421.5,518.1 L421.3,518.2 L421.1,518.4 L420.9,518.5 L420.7,518.5Z" stroke="#2a2a2a" stroke-width="2.0925000000000002" />
<path d="M398.7,527.1 L398.5,527.0 L398.3,526.9 L398.1,526.8 L397.8,526.6 L397.6,526.5 L397.4,526.3 L397.2,526.1 L397.0,525.9 L396.8,525.7 L396.7,525.5 L396.5,525.2 L396.4,525.0 L396.2,524.7 L396.1,524.5 L396.0,524.2 L395.9,523.9 L395.8,523.6 L395.8,523.3 L395.7,523.1 L395.7,522.8 L395.7,522.5 L395.7,522.2 L395.7,521.9 L395.7,521.7 L395.8,521.4 L395.8,521.1 L395.9,520.9 L396.0,520.7 L396.1,520.4 L396.3,520.2" stroke="#2a2a2a" stroke-width="1.35" />
<path d="M420.0,518.3 L419.8,518.2 L419.6,518.1 L419.4,518.0 L419.1,517.8 L418.9,517.7 L418.7,517.5 L418.5,517.3 L418.3,517.1 L418.1,516.9 L418.0,516.7 L417.8,516.4 L417.7,516.2 L417.5,515.9 L417.4,515.7 L417.3,515.4 L417.2,515.1 L417.1,514.8 L417.1,514.5 L417.0,514.3 L417.0,514.0 L417.0,513.7 L417.0,513.4 L417.0,513.1 L417.0,512.9 L417.1,512.6 L417.1,512.3 L417.2,512.1 L417.3,511.9 L417.4,511.6 L417.6,511.4" stroke="#2a2a2a" stroke-width="1.35" />
<path d="M436.0,328.4 L436.0,354.0" stroke="#333" stroke-width="1.89" />
<path d="M354.0,360.7 C355.5,361.3 360.0,363.6 363.0,364.5 C366.0,365.4 368.7,365.7 372.0,366.0 C375.3,366.3 379.5,366.5 383.0,366.3 C386.5,366.1 389.8,365.6 393.0,365.0 C396.2,364.4 399.4,363.5 402.0,362.5 C404.6,361.5 406.7,360.2 408.5,359.0 C410.3,357.8 412.1,356.3 413.0,355.0 C413.9,353.7 414.3,352.6 414.0,351.0 C413.7,349.4 412.4,347.2 411.0,345.5 C409.6,343.8 406.6,341.8 405.7,341.0" stroke="#2a2a2a" stroke-width="2.0250000000000004" />
<path d="M365.0,356.5 C366.8,356.3 372.5,356.0 376.0,355.5 C379.5,355.0 383.2,354.4 386.0,353.7 C388.8,352.9 391.2,351.9 393.0,351.0 C394.8,350.1 396.3,348.5 397.0,348.0" stroke="#2a2a2a" stroke-width="1.89" />
<path d="M372.0,362.0 C374.2,361.9 381.0,362.0 385.0,361.5 C389.0,361.0 393.0,360.0 396.0,359.0 C399.0,358.0 401.8,356.1 403.0,355.5" stroke="#2a2a2a" stroke-width="1.62" />
<path d="M403.0,349.5 L403.0,358.0" stroke="#2a2a2a" stroke-width="1.7550000000000001" />
<path d="M386.0,350.0 C387.0,349.5 390.0,347.8 392.0,347.0 C394.0,346.2 396.2,345.2 398.0,345.0 C399.8,344.8 402.2,345.4 403.0,345.5" stroke="#2a2a2a" stroke-width="2.16" />
<path d="M378.0,352.0 C379.2,351.6 382.7,350.1 385.0,349.5 C387.3,348.9 390.8,348.7 392.0,348.5" stroke="#333" stroke-width="2.43" />
<path d="M417.0,348.7 L431.7,354.4" stroke="#2a2a2a" stroke-width="2.0925000000000002" />
<path d="M378.0,374.2 L381.0,371.0" stroke="#555" stroke-width="1.35" />
<path d="M385.0,371.5 L388.0,368.3" stroke="#555" stroke-width="1.35" />
<path d="M392.0,368.8 L395.0,365.6" stroke="#555" stroke-width="1.35" />
<path d="M399.0,366.1 L402.0,362.9" stroke="#555" stroke-width="1.35" />
<path d="M406.0,363.4 L409.0,360.2" stroke="#555" stroke-width="1.35" />
<path d="M413.0,360.7 L416.0,357.5" stroke="#555" stroke-width="1.35" />
<path d="M420.0,358.0 L423.0,354.8" stroke="#555" stroke-width="1.35" />
<path d="M233.4,525.0 L233.4,665.5" stroke="#3a3a3a" stroke-width="2.0925000000000002" />
<path d="M233.4,526.0 C233.7,524.8 233.8,521.1 235.0,519.0 C236.2,516.9 239.0,514.8 240.8,513.4 C242.6,512.0 244.2,511.4 246.0,510.8 C247.8,510.2 249.6,509.9 251.3,509.9 C253.0,509.8 254.4,510.1 256.0,510.5 C257.6,510.9 260.1,512.2 260.9,512.5" stroke="#3a3a3a" stroke-width="2.0925000000000002" />
<path d="M258.6,517.8 L258.6,631.0" stroke="#3a3a3a" stroke-width="2.0925000000000002" />
<path d="M233.4,532.7 C234.5,532.4 237.9,531.6 240.0,531.0 C242.1,530.4 243.8,530.0 246.0,529.2 C248.2,528.5 250.9,527.5 253.0,526.5 C255.1,525.5 257.4,524.0 258.3,523.5" stroke="#3a3a3a" stroke-width="1.4850000000000003" />
<path d="M231.0,560.7 L236.0,560.7" stroke="#3a3a3a" stroke-width="1.35" />
<path d="M256.0,560.7 L261.0,560.7" stroke="#3a3a3a" stroke-width="1.35" />
<path d="M260.9,512.5 L292.5,522.2 L302.0,521.3 L334.5,511.6" stroke="#3a3a3a" stroke-width="2.0925000000000002" />
<path d="M320.5,516.5 L320.5,527.4 L325.8,532.7 L331.9,530.9 L331.9,513.0" stroke="#3a3a3a" stroke-width="1.4850000000000003" />
<path d="M325.8,519.0 L325.8,532.7" stroke="#3a3a3a" stroke-width="1.35" />
<path d="M51.3,727.0 L51.3,912.0 L304.5,993.0 L564.0,899.6 L564.0,706.0 L527.0,679.0" stroke="#2a2a2a" stroke-width="2.0925000000000002" />
<path d="M51.3,727.0 L82.0,672.5 L120.0,658.0 L122.5,665.5" stroke="#2a2a2a" stroke-width="2.0925000000000002" />
<path d="M82.0,672.5 L333.5,754.0" stroke="#2a2a2a" stroke-width="2.0925000000000002" />
<path d="M122.5,665.5 L360.0,744.5" stroke="#2a2a2a" stroke-width="2.0925000000000002" />
<path d="M51.3,727.0 L303.6,807.0 L303.6,993.0" stroke="#2a2a2a" stroke-width="2.0925000000000002" />
<path d="M303.6,807.0 L333.5,754.0 L360.0,744.5 L367.2,743.5" stroke="#2a2a2a" stroke-width="2.0925000000000002" />
<path d="M564.0,832.0 L609.0,817.0" stroke="#666" stroke-width="1.4850000000000003" />
<polygon points="233.4,641.0 291.6,617.5 480.0,560.0 526.0,639.4 530.5,653.0 529.8,661.5 517.0,669.0 515.0,669.0 513.0,689.0 485.0,700.5 483.5,697.5 397.5,726.7 395.5,731.0 370.0,744.5 367.2,743.5 371.4,710.0 233.4,665.5" fill="#fff" stroke="none" />
<path d="M233.4,641.0 L291.6,617.5" stroke="#3a3a3a" stroke-width="2.0925000000000002" />
<path d="M233.4,600.0 L233.4,665.5" stroke="#3a3a3a" stroke-width="2.0925000000000002" />
<path d="M233.4,641.0 L378.5,690.0" stroke="#3a3a3a" stroke-width="2.0925000000000002" />
<path d="M233.4,665.5 L371.4,709.8" stroke="#3a3a3a" stroke-width="2.0925000000000002" />
<path d="M237.0,642.0 L290.0,639.8" stroke="#333" stroke-width="1.7550000000000001" />
<path d="M241.0,645.0 L296.0,642.2" stroke="#333" stroke-width="1.7550000000000001" />
<path d="M390.0,671.0 L390.0,711.0" stroke="#3a3a3a" stroke-width="2.0925000000000002" />
<path d="M386.5,672.0 L386.5,690.0" stroke="#3a3a3a" stroke-width="1.35" />
<path d="M371.4,709.8 L378.0,712.5 L391.0,712.0" stroke="#3a3a3a" stroke-width="2.0925000000000002" />
<path d="M390.0,671.0 L525.6,639.4" stroke="#3a3a3a" stroke-width="2.0925000000000002" />
<path d="M397.3,687.8 L530.8,653.0" stroke="#3a3a3a" stroke-width="2.0925000000000002" />
<path d="M391.0,712.0 L517.0,668.8" stroke="#3a3a3a" stroke-width="2.0925000000000002" />
<path d="M525.6,639.4 L525.6,646.0 L530.8,648.0 L530.8,653.0 L529.8,661.5 L517.0,668.8" stroke="#3a3a3a" stroke-width="2.0925000000000002" />
<path d="M521.0,650.0 L521.0,656.0 L525.0,658.0" stroke="#3a3a3a" stroke-width="1.35" />
<path d="M397.3,726.7 L483.5,697.2" stroke="#222" stroke-width="2.9700000000000006" />
<path d="M371.4,709.8 L367.2,743.5" stroke="#3a3a3a" stroke-width="2.0925000000000002" />
<path d="M367.2,743.5 L388.0,737.5" stroke="#3a3a3a" stroke-width="2.0925000000000002" />
<path d="M388.0,737.5 C389.0,736.9 392.6,736.1 394.0,734.0 C395.4,731.9 396.1,727.6 396.6,724.6 C397.2,721.6 397.2,717.4 397.3,716.0" stroke="#3a3a3a" stroke-width="2.0925000000000002" />
<path d="M374.5,728.8 L396.6,721.4" stroke="#3a3a3a" stroke-width="1.35" />
<path d="M484.6,680.4 L485.6,700.4" stroke="#3a3a3a" stroke-width="2.16" />
<path d="M485.6,700.4 L507.0,692.5" stroke="#3a3a3a" stroke-width="2.0925000000000002" />
<path d="M507.0,692.5 C507.8,691.9 510.8,691.1 512.0,689.0 C513.2,686.9 513.5,683.4 514.0,680.0 C514.5,676.6 514.8,670.7 515.0,668.8" stroke="#3a3a3a" stroke-width="2.0925000000000002" />
<path d="M487.0,686.0 L514.0,677.0" stroke="#3a3a3a" stroke-width="1.35" />
<path d="M474.0,639.4 L525.6,638.8" stroke="#333" stroke-width="1.7550000000000001" />
<path d="M475.0,637.5 L522.0,635.0" stroke="#333" stroke-width="1.7550000000000001" />
<path d="M298.6,640.4 L365.2,658.0" stroke="#3a3a3a" stroke-width="1.4850000000000003" />
<path d="M305.0,642.5 L363.8,663.0" stroke="#3a3a3a" stroke-width="1.4850000000000003" />
<path d="M317.9,635.2 L375.0,653.6" stroke="#3a3a3a" stroke-width="1.4850000000000003" />
<path d="M300.0,624.0 L375.0,647.0" stroke="#3a3a3a" stroke-width="1.4850000000000003" />
<path d="M388.0,646.8 L445.7,626.8" stroke="#3a3a3a" stroke-width="1.4850000000000003" />
<path d="M399.4,651.0 L452.0,633.0" stroke="#3a3a3a" stroke-width="1.4850000000000003" />
<path d="M393.0,661.0 L460.0,640.0" stroke="#3a3a3a" stroke-width="1.4850000000000003" />
<polygon points="291.5,629.0 299.5,625.0 317.5,631.0 318.5,635.0 310.5,639.0 292.5,633.0" fill="#fff" stroke="none" />
<path d="M291.5,629.0 L299.5,625.0 L317.5,631.0 L318.5,635.0 L310.5,639.0 L292.5,633.0 L291.5,629.0" stroke="#3a3a3a" stroke-width="1.62" />
<path d="M292.5,633.0 L292.5,637.0 L310.5,643.0 L310.5,639.0" stroke="#3a3a3a" stroke-width="1.4850000000000003" />
<path d="M310.5,643.0 L318.5,639.0 L318.5,635.0" stroke="#3a3a3a" stroke-width="1.4850000000000003" />
<path d="M303.7,633.3 L303.5,633.3 L303.4,633.4 L303.2,633.4 L303.0,633.4 L302.8,633.4 L302.6,633.4 L302.5,633.3 L302.3,633.2 L302.1,633.2 L301.9,633.1 L301.7,633.0 L301.6,632.8 L301.4,632.7 L301.2,632.5 L301.1,632.4 L300.9,632.2 L300.8,632.0 L300.6,631.8 L300.5,631.6 L300.4,631.4 L300.3,631.2 L300.2,631.0 L300.1,630.7 L300.0,630.5 L300.0,630.3 L299.9,630.0 L299.9,629.8 L299.9,629.6 L299.9,629.3 L299.9,629.1 L299.9,628.9 L299.9,628.6 L300.0,628.4 L300.0,628.2 L300.1,628.0 L300.2,627.8 L300.2,627.7 L300.3,627.5 L300.5,627.3 L300.6,627.2 L300.7,627.1 L300.8,627.0 L301.0,626.9 L301.1,626.8 L301.3,626.7 L301.5,626.7 L301.6,626.6 L301.8,626.6 L302.0,626.6 L302.2,626.6 L302.4,626.6 L302.5,626.7 L302.7,626.8 L302.9,626.8 L303.1,626.9 L303.3,627.0 L303.4,627.2 L303.6,627.3 L303.8,627.5 L303.9,627.6 L304.1,627.8 L304.2,628.0 L304.4,628.2 L304.5,628.4 L304.6,628.6 L304.7,628.8 L304.8,629.0 L304.9,629.3 L305.0,629.5 L305.0,629.7 L305.1,630.0 L305.1,630.2 L305.1,630.4 L305.1,630.7 L305.1,630.9 L305.1,631.1 L305.1,631.4 L305.0,631.6 L305.0,631.8 L304.9,632.0 L304.8,632.2 L304.8,632.3 L304.7,632.5 L304.5,632.7 L304.4,632.8 L304.3,632.9 L304.2,633.0 L304.0,633.1 L303.9,633.2 L303.7,633.3Z" stroke="#333" stroke-width="2.16" />
<path d="M312.6,637.0 L312.3,637.1 L312.0,637.2 L311.7,637.3 L311.4,637.3 L311.1,637.4 L310.8,637.4 L310.5,637.4 L310.2,637.4 L309.9,637.3 L309.6,637.3 L309.3,637.2 L309.1,637.2 L308.8,637.1 L308.6,637.0 L308.4,636.8 L308.2,636.7 L308.0,636.6 L307.8,636.4 L307.7,636.2 L307.5,636.0 L307.4,635.8 L307.3,635.6 L307.2,635.4 L307.2,635.2 L307.1,635.0 L307.1,634.8 L307.1,634.5 L307.2,634.3 L307.2,634.1 L307.3,633.8 L307.4,633.6 L307.5,633.4 L307.6,633.1 L307.8,632.9 L307.9,632.7 L308.1,632.5 L308.3,632.3 L308.5,632.1 L308.8,631.9 L309.0,631.7 L309.3,631.5 L309.6,631.4 L309.8,631.2 L310.1,631.1 L310.4,631.0 L310.7,630.9 L311.0,630.8 L311.3,630.7 L311.6,630.7 L311.9,630.6 L312.2,630.6 L312.5,630.6 L312.8,630.6 L313.1,630.7 L313.4,630.7 L313.7,630.8 L313.9,630.8 L314.2,630.9 L314.4,631.0 L314.6,631.2 L314.8,631.3 L315.0,631.4 L315.2,631.6 L315.3,631.8 L315.5,632.0 L315.6,632.2 L315.7,632.4 L315.8,632.6 L315.8,632.8 L315.9,633.0 L315.9,633.2 L315.9,633.5 L315.8,633.7 L315.8,633.9 L315.7,634.2 L315.6,634.4 L315.5,634.6 L315.4,634.9 L315.2,635.1 L315.1,635.3 L314.9,635.5 L314.7,635.7 L314.5,635.9 L314.2,636.1 L314.0,636.3 L313.7,636.5 L313.4,636.6 L313.2,636.8 L312.9,636.9 L312.6,637.0Z" stroke="#3a3a3a" stroke-width="1.35" />
<polygon points="447.0,627.0 455.0,623.0 473.0,629.0 474.0,633.0 466.0,637.0 448.0,631.0" fill="#fff" stroke="none" />
<path d="M447.0,627.0 L455.0,623.0 L473.0,629.0 L474.0,633.0 L466.0,637.0 L448.0,631.0 L447.0,627.0" stroke="#3a3a3a" stroke-width="1.62" />
<path d="M448.0,631.0 L448.0,635.0 L466.0,641.0 L466.0,637.0" stroke="#3a3a3a" stroke-width="1.4850000000000003" />
<path d="M466.0,641.0 L474.0,637.0 L474.0,633.0" stroke="#3a3a3a" stroke-width="1.4850000000000003" />
<path d="M459.2,631.3 L459.0,631.3 L458.9,631.4 L458.7,631.4 L458.5,631.4 L458.3,631.4 L458.1,631.4 L458.0,631.3 L457.8,631.2 L457.6,631.2 L457.4,631.1 L457.2,631.0 L457.1,630.8 L456.9,630.7 L456.7,630.5 L456.6,630.4 L456.4,630.2 L456.3,630.0 L456.1,629.8 L456.0,629.6 L455.9,629.4 L455.8,629.2 L455.7,629.0 L455.6,628.7 L455.5,628.5 L455.5,628.3 L455.4,628.0 L455.4,627.8 L455.4,627.6 L455.4,627.3 L455.4,627.1 L455.4,626.9 L455.4,626.6 L455.5,626.4 L455.5,626.2 L455.6,626.0 L455.7,625.8 L455.7,625.7 L455.8,625.5 L456.0,625.3 L456.1,625.2 L456.2,625.1 L456.3,625.0 L456.5,624.9 L456.6,624.8 L456.8,624.7 L457.0,624.7 L457.1,624.6 L457.3,624.6 L457.5,624.6 L457.7,624.6 L457.9,624.6 L458.0,624.7 L458.2,624.8 L458.4,624.8 L458.6,624.9 L458.8,625.0 L458.9,625.2 L459.1,625.3 L459.3,625.5 L459.4,625.6 L459.6,625.8 L459.7,626.0 L459.9,626.2 L460.0,626.4 L460.1,626.6 L460.2,626.8 L460.3,627.0 L460.4,627.3 L460.5,627.5 L460.5,627.7 L460.6,628.0 L460.6,628.2 L460.6,628.4 L460.6,628.7 L460.6,628.9 L460.6,629.1 L460.6,629.4 L460.5,629.6 L460.5,629.8 L460.4,630.0 L460.3,630.2 L460.3,630.3 L460.2,630.5 L460.0,630.7 L459.9,630.8 L459.8,630.9 L459.7,631.0 L459.5,631.1 L459.4,631.2 L459.2,631.3Z" stroke="#333" stroke-width="2.16" />
<path d="M468.1,635.0 L467.8,635.1 L467.5,635.2 L467.2,635.3 L466.9,635.3 L466.6,635.4 L466.3,635.4 L466.0,635.4 L465.7,635.4 L465.4,635.3 L465.1,635.3 L464.8,635.2 L464.6,635.2 L464.3,635.1 L464.1,635.0 L463.9,634.8 L463.7,634.7 L463.5,634.6 L463.3,634.4 L463.2,634.2 L463.0,634.0 L462.9,633.8 L462.8,633.6 L462.7,633.4 L462.7,633.2 L462.6,633.0 L462.6,632.8 L462.6,632.5 L462.7,632.3 L462.7,632.1 L462.8,631.8 L462.9,631.6 L463.0,631.4 L463.1,631.1 L463.3,630.9 L463.4,630.7 L463.6,630.5 L463.8,630.3 L464.0,630.1 L464.3,629.9 L464.5,629.7 L464.8,629.5 L465.1,629.4 L465.3,629.2 L465.6,629.1 L465.9,629.0 L466.2,628.9 L466.5,628.8 L466.8,628.7 L467.1,628.7 L467.4,628.6 L467.7,628.6 L468.0,628.6 L468.3,628.6 L468.6,628.7 L468.9,628.7 L469.2,628.8 L469.4,628.8 L469.7,628.9 L469.9,629.0 L470.1,629.2 L470.3,629.3 L470.5,629.4 L470.7,629.6 L470.8,629.8 L471.0,630.0 L471.1,630.2 L471.2,630.4 L471.3,630.6 L471.3,630.8 L471.4,631.0 L471.4,631.2 L471.4,631.5 L471.3,631.7 L471.3,631.9 L471.2,632.2 L471.1,632.4 L471.0,632.6 L470.9,632.9 L470.7,633.1 L470.6,633.3 L470.4,633.5 L470.2,633.7 L470.0,633.9 L469.7,634.1 L469.5,634.3 L469.2,634.5 L468.9,634.6 L468.7,634.8 L468.4,634.9 L468.1,635.0Z" stroke="#3a3a3a" stroke-width="1.35" />
<polygon points="367.0,652.0 375.0,648.0 393.0,654.0 394.0,658.0 386.0,662.0 368.0,656.0" fill="#fff" stroke="none" />
<path d="M367.0,652.0 L375.0,648.0 L393.0,654.0 L394.0,658.0 L386.0,662.0 L368.0,656.0 L367.0,652.0" stroke="#3a3a3a" stroke-width="1.62" />
<path d="M368.0,656.0 L368.0,660.0 L386.0,666.0 L386.0,662.0" stroke="#3a3a3a" stroke-width="1.4850000000000003" />
<path d="M386.0,666.0 L394.0,662.0 L394.0,658.0" stroke="#3a3a3a" stroke-width="1.4850000000000003" />
<path d="M379.2,656.3 L379.0,656.3 L378.9,656.4 L378.7,656.4 L378.5,656.4 L378.3,656.4 L378.1,656.4 L378.0,656.3 L377.8,656.2 L377.6,656.2 L377.4,656.1 L377.2,656.0 L377.1,655.8 L376.9,655.7 L376.7,655.5 L376.6,655.4 L376.4,655.2 L376.3,655.0 L376.1,654.8 L376.0,654.6 L375.9,654.4 L375.8,654.2 L375.7,654.0 L375.6,653.7 L375.5,653.5 L375.5,653.3 L375.4,653.0 L375.4,652.8 L375.4,652.6 L375.4,652.3 L375.4,652.1 L375.4,651.9 L375.4,651.6 L375.5,651.4 L375.5,651.2 L375.6,651.0 L375.7,650.8 L375.7,650.7 L375.8,650.5 L376.0,650.3 L376.1,650.2 L376.2,650.1 L376.3,650.0 L376.5,649.9 L376.6,649.8 L376.8,649.7 L377.0,649.7 L377.1,649.6 L377.3,649.6 L377.5,649.6 L377.7,649.6 L377.9,649.6 L378.0,649.7 L378.2,649.8 L378.4,649.8 L378.6,649.9 L378.8,650.0 L378.9,650.2 L379.1,650.3 L379.3,650.5 L379.4,650.6 L379.6,650.8 L379.7,651.0 L379.9,651.2 L380.0,651.4 L380.1,651.6 L380.2,651.8 L380.3,652.0 L380.4,652.3 L380.5,652.5 L380.5,652.7 L380.6,653.0 L380.6,653.2 L380.6,653.4 L380.6,653.7 L380.6,653.9 L380.6,654.1 L380.6,654.4 L380.5,654.6 L380.5,654.8 L380.4,655.0 L380.3,655.2 L380.3,655.3 L380.2,655.5 L380.0,655.7 L379.9,655.8 L379.8,655.9 L379.7,656.0 L379.5,656.1 L379.4,656.2 L379.2,656.3Z" stroke="#333" stroke-width="2.16" />
<path d="M388.1,660.0 L387.8,660.1 L387.5,660.2 L387.2,660.3 L386.9,660.3 L386.6,660.4 L386.3,660.4 L386.0,660.4 L385.7,660.4 L385.4,660.3 L385.1,660.3 L384.8,660.2 L384.6,660.2 L384.3,660.1 L384.1,660.0 L383.9,659.8 L383.7,659.7 L383.5,659.6 L383.3,659.4 L383.2,659.2 L383.0,659.0 L382.9,658.8 L382.8,658.6 L382.7,658.4 L382.7,658.2 L382.6,658.0 L382.6,657.8 L382.6,657.5 L382.7,657.3 L382.7,657.1 L382.8,656.8 L382.9,656.6 L383.0,656.4 L383.1,656.1 L383.3,655.9 L383.4,655.7 L383.6,655.5 L383.8,655.3 L384.0,655.1 L384.3,654.9 L384.5,654.7 L384.8,654.5 L385.1,654.4 L385.3,654.2 L385.6,654.1 L385.9,654.0 L386.2,653.9 L386.5,653.8 L386.8,653.7 L387.1,653.7 L387.4,653.6 L387.7,653.6 L388.0,653.6 L388.3,653.6 L388.6,653.7 L388.9,653.7 L389.2,653.8 L389.4,653.8 L389.7,653.9 L389.9,654.0 L390.1,654.2 L390.3,654.3 L390.5,654.4 L390.7,654.6 L390.8,654.8 L391.0,655.0 L391.1,655.2 L391.2,655.4 L391.3,655.6 L391.3,655.8 L391.4,656.0 L391.4,656.2 L391.4,656.5 L391.3,656.7 L391.3,656.9 L391.2,657.2 L391.1,657.4 L391.0,657.6 L390.9,657.9 L390.7,658.1 L390.6,658.3 L390.4,658.5 L390.2,658.7 L390.0,658.9 L389.7,659.1 L389.5,659.3 L389.2,659.5 L388.9,659.6 L388.7,659.8 L388.4,659.9 L388.1,660.0Z" stroke="#3a3a3a" stroke-width="1.35" />
<path d="M382.6,665.7 L382.6,693.0" stroke="#3a3a3a" stroke-width="2.0925000000000002" />
<path d="M385.5,666.0 L385.5,693.0" stroke="#3a3a3a" stroke-width="1.35" />
<path d="M376.5,693.0 L391.0,693.0 L391.0,699.0 L376.5,699.0 L376.5,693.0" stroke="#3a3a3a" stroke-width="1.62" />
<path d="M381.0,676.0 L387.0,676.0" stroke="#3a3a3a" stroke-width="1.35" />
<path d="M381.0,684.0 L387.0,684.0" stroke="#3a3a3a" stroke-width="1.35" />
<path d="M486.2,591.0 L524.2,597.8" stroke="#3a3a3a" stroke-width="2.295" />
<path d="M501.4,588.7 L525.0,596.3" stroke="#3a3a3a" stroke-width="1.89" />
<path d="M524.2,597.8 L469.5,619.0" stroke="#3a3a3a" stroke-width="2.295" />
<path d="M509.0,605.4 L474.0,620.6" stroke="#3a3a3a" stroke-width="2.16" />
<path d="M499.0,608.4 L499.0,617.5" stroke="#3a3a3a" stroke-width="1.7550000000000001" />
<path d="M499.0,617.5 L503.0,616.0" stroke="#3a3a3a" stroke-width="1.62" />
<path d="M469.5,619.0 L524.2,637.3" stroke="#3a3a3a" stroke-width="2.16" />
<polygon points="291.6,616.0 358.0,636.6 552.5,567.5 480.0,541.0 460.0,547.0" fill="#fff" stroke="none" />
<path d="M291.6,616.0 L358.0,636.6 L552.5,567.5 L492.6,541.0" stroke="#2a2a2a" stroke-width="2.7" />
<path d="M292.0,618.5 L357.3,638.9 L450.0,606.0" stroke="#3a3a3a" stroke-width="1.4850000000000003" />
<path d="M291.6,616.0 L345.4,595.5" stroke="#2a2a2a" stroke-width="1.7550000000000001" />
<path d="M391.7,570.0 L462.0,597.0" stroke="#b4c8de" stroke-width="1.1475" />
<path d="M392.0,572.0 L398.0,570.0 L396.0,574.0" stroke="#b4c8de" stroke-width="1.08" />
<polygon points="345.4,591.0 365.0,583.3 417.0,593.8 417.7,604.3 386.0,614.2 345.4,597.5" fill="#fff" stroke="none" />
<path d="M345.4,591.0 L386.0,603.0 L417.0,593.8 L417.7,604.3 L386.0,614.2 L345.4,597.5 L345.4,591.0" stroke="#2a2a2a" stroke-width="1.7550000000000001" />
<path d="M386.0,603.0 L386.0,614.2" stroke="#2a2a2a" stroke-width="2.0925000000000002" />
<path d="M345.4,591.0 L365.0,583.3" stroke="#2a2a2a" stroke-width="2.0925000000000002" />
<path d="M398.0,588.0 L417.0,593.8" stroke="#2a2a2a" stroke-width="2.0925000000000002" />
<path d="M351.0,593.0 L384.7,625.4" stroke="#3a3a3a" stroke-width="1.35" />
<path d="M346.8,603.0 L383.3,615.6" stroke="#3a3a3a" stroke-width="1.35" />
<polygon points="351.0,541.0 366.5,546.0 396.0,536.0 396.0,591.7 381.0,596.0 366.5,591.7 351.0,587.5" fill="#fff" stroke="none" />
<path d="M351.0,541.0 L351.0,587.5" stroke="#3a3a3a" stroke-width="2.0925000000000002" />
<path d="M366.5,546.0 L366.5,591.7" stroke="#2a2a2a" stroke-width="1.89" />
<path d="M396.0,536.0 L396.0,591.7" stroke="#2a2a2a" stroke-width="1.89" />
<path d="M395.9,591.7 L395.9,592.0 L395.7,592.4 L395.5,592.7 L395.2,593.0 L394.8,593.3 L394.3,593.6 L393.7,593.9 L393.1,594.2 L392.4,594.4 L391.6,594.7 L390.7,594.9 L389.8,595.1 L388.9,595.3 L387.9,595.4 L386.8,595.6 L385.7,595.7 L384.6,595.8 L383.5,595.8 L382.4,595.9 L381.2,595.9 L380.0,595.9 L378.9,595.8 L377.8,595.8 L376.7,595.7 L375.6,595.6 L374.5,595.4 L373.5,595.3 L372.6,595.1 L371.7,594.9 L370.8,594.7 L370.0,594.4 L369.3,594.2 L368.7,593.9 L368.1,593.6 L367.6,593.3 L367.2,593.0 L366.9,592.7 L366.7,592.4 L366.5,592.0 L366.5,591.7" stroke="#2a2a2a" stroke-width="1.7550000000000001" />
<path d="M351.0,587.5 L366.5,592.0" stroke="#3a3a3a" stroke-width="1.35" />
<path d="M430.0,523.0 L430.0,550.0" stroke="#3a3a3a" stroke-width="1.4850000000000003" />
<path d="M431.6,461.0 L442.0,463.0 L442.0,519.0" stroke="#2a2a2a" stroke-width="2.0925000000000002" />
<path d="M459.0,474.1 L459.1,474.4 L459.2,474.7 L459.2,475.1 L459.2,475.5 L459.1,475.8 L459.1,476.2 L458.9,476.6 L458.8,477.0 L458.6,477.3 L458.4,477.7 L458.1,478.1 L457.8,478.5 L457.5,478.8 L457.1,479.2 L456.7,479.5 L456.3,479.8 L455.9,480.1 L455.4,480.4 L455.0,480.7 L454.5,481.0 L454.0,481.2 L453.5,481.4 L452.9,481.6 L452.4,481.8 L451.9,481.9 L451.3,482.0 L450.8,482.1 L450.3,482.2 L449.7,482.2 L449.2,482.2 L448.7,482.2 L448.2,482.2 L447.7,482.1 L447.3,482.0 L446.8,481.9 L446.4,481.8 L446.0,481.6 L445.7,481.4 L445.3,481.2 L445.0,481.0 L444.7,480.7 L444.5,480.5 L444.3,480.2 L444.1,479.9 L444.0,479.5 L443.9,479.2 L443.8,478.9 L443.8,478.5 L443.8,478.1 L443.9,477.8 L443.9,477.4 L444.1,477.0 L444.2,476.6 L444.4,476.3 L444.6,475.9 L444.9,475.5 L445.2,475.1 L445.5,474.8 L445.9,474.4 L446.3,474.1 L446.7,473.8 L447.1,473.5 L447.6,473.2 L448.0,472.9 L448.5,472.6 L449.0,472.4 L449.5,472.2 L450.1,472.0 L450.6,471.8 L451.1,471.7 L451.7,471.6 L452.2,471.5 L452.7,471.4 L453.3,471.4 L453.8,471.4 L454.3,471.4 L454.8,471.4 L455.3,471.5 L455.7,471.6 L456.2,471.7 L456.6,471.8 L457.0,472.0 L457.3,472.2 L457.7,472.4 L458.0,472.6 L458.3,472.9 L458.5,473.1 L458.7,473.4 L458.9,473.7 L459.0,474.1Z" stroke="#333" stroke-width="2.7" />
<path d="M455.3,475.4 L455.3,475.6 L455.3,475.7 L455.3,475.9 L455.3,476.0 L455.3,476.2 L455.2,476.3 L455.1,476.5 L455.1,476.6 L454.9,476.8 L454.8,477.0 L454.7,477.1 L454.5,477.3 L454.4,477.4 L454.2,477.6 L454.0,477.7 L453.8,477.9 L453.5,478.0 L453.3,478.2 L453.1,478.3 L452.8,478.4 L452.6,478.5 L452.3,478.6 L452.1,478.7 L451.8,478.8 L451.5,478.9 L451.3,479.0 L451.0,479.0 L450.7,479.1 L450.5,479.1 L450.2,479.1 L450.0,479.1 L449.7,479.1 L449.5,479.1 L449.3,479.1 L449.1,479.1 L448.9,479.0 L448.7,479.0 L448.5,478.9 L448.3,478.8 L448.2,478.7 L448.1,478.6 L448.0,478.5 L447.9,478.4 L447.8,478.3 L447.7,478.2 L447.7,478.0 L447.7,477.9 L447.7,477.7 L447.7,477.6 L447.7,477.4 L447.8,477.3 L447.9,477.1 L447.9,477.0 L448.1,476.8 L448.2,476.6 L448.3,476.5 L448.5,476.3 L448.6,476.2 L448.8,476.0 L449.0,475.9 L449.2,475.7 L449.5,475.6 L449.7,475.4 L449.9,475.3 L450.2,475.2 L450.4,475.1 L450.7,475.0 L450.9,474.9 L451.2,474.8 L451.5,474.7 L451.7,474.6 L452.0,474.6 L452.3,474.5 L452.5,474.5 L452.8,474.5 L453.0,474.5 L453.3,474.5 L453.5,474.5 L453.7,474.5 L453.9,474.5 L454.1,474.6 L454.3,474.6 L454.5,474.7 L454.7,474.8 L454.8,474.9 L454.9,475.0 L455.0,475.1 L455.1,475.2 L455.2,475.3 L455.3,475.4Z" stroke="#333" stroke-width="2.0250000000000004" />
<path d="M442.6,484.0 L442.6,510.0" stroke="#3a3a3a" stroke-width="2.0925000000000002" />
<path d="M448.4,484.0 L448.4,509.0" stroke="#3a3a3a" stroke-width="2.0925000000000002" />
<path d="M451.0,484.0 L451.0,505.0" stroke="#3a3a3a" stroke-width="1.35" />
<path d="M442.6,510.5 L462.0,506.3 L450.5,502.0" stroke="#3a3a3a" stroke-width="2.0925000000000002" />
<path d="M442.6,514.7 L459.4,511.5" stroke="#3a3a3a" stroke-width="2.0925000000000002" />
<path d="M462.0,506.3 L462.0,528.0" stroke="#3a3a3a" stroke-width="2.0925000000000002" />
<path d="M463.8,507.0 L463.8,528.3" stroke="#3a3a3a" stroke-width="1.35" />
<path d="M459.4,511.5 L459.4,528.0" stroke="#3a3a3a" stroke-width="1.35" />
<path d="M445.2,514.7 L445.2,551.0" stroke="#3a3a3a" stroke-width="2.0925000000000002" />
<path d="M448.4,514.0 L448.4,551.5" stroke="#3a3a3a" stroke-width="2.0925000000000002" />
<path d="M448.4,522.0 L459.4,526.0" stroke="#3a3a3a" stroke-width="1.35" />
<polygon points="454.7,528.3 466.3,529.4 466.3,557.0 451.5,552.5" fill="#fff" stroke="none" />
<path d="M454.7,552.8 L454.2,552.8 L453.6,552.6 L453.1,552.5 L452.5,552.2 L452.0,551.8 L451.5,551.4 L451.0,551.0 L450.6,550.4 L450.2,549.8 L449.8,549.1 L449.4,548.4 L449.0,547.6 L448.7,546.8 L448.5,546.0 L448.2,545.1 L448.0,544.2 L447.9,543.2 L447.8,542.3 L447.7,541.3 L447.7,540.3 L447.7,539.3 L447.8,538.3 L447.9,537.4 L448.0,536.4 L448.2,535.5 L448.5,534.6 L448.7,533.8 L449.0,533.0 L449.4,532.2 L449.8,531.5 L450.2,530.8 L450.6,530.2 L451.0,529.6 L451.5,529.2 L452.0,528.8 L452.5,528.4 L453.1,528.1 L453.6,528.0 L454.2,527.8 L454.7,527.8" stroke="#2a2a2a" stroke-width="2.0925000000000002" fill="#fff"/>
<path d="M454.7,528.3 L466.3,529.4" stroke="#2a2a2a" stroke-width="2.0925000000000002" />
<path d="M452.0,552.0 L463.0,556.7" stroke="#2a2a2a" stroke-width="2.0925000000000002" />
<path d="M475.3,543.0 L475.2,545.2 L474.9,547.3 L474.3,549.4 L473.6,551.2 L472.7,552.9 L471.6,554.3 L470.4,555.5 L469.1,556.3 L467.7,556.8 L466.3,557.0 L464.9,556.8 L463.5,556.3 L462.2,555.5 L461.0,554.3 L459.9,552.9 L459.0,551.2 L458.3,549.4 L457.7,547.3 L457.4,545.2 L457.3,543.0 L457.4,540.8 L457.7,538.7 L458.3,536.6 L459.0,534.8 L459.9,533.1 L461.0,531.7 L462.2,530.5 L463.5,529.7 L464.9,529.2 L466.3,529.0 L467.7,529.2 L469.1,529.7 L470.4,530.5 L471.6,531.7 L472.7,533.1 L473.6,534.8 L474.3,536.6 L474.9,538.7 L475.2,540.8 L475.3,543.0Z" stroke="#2a2a2a" stroke-width="2.0925000000000002" fill="#fff"/>
<path d="M474.7,540.0 L492.6,541.0 L475.7,547.3" stroke="#2a2a2a" stroke-width="1.62" />
<path d="M407.5,573.0 L407.5,533.5 L476.0,574.0 L464.2,616.0" stroke="#111" stroke-width="3.6" stroke-linejoin="miter"/>
<polygon points="415.5,564.0 416.0,556.0 418.5,550.5 422.6,546.8 428.2,548.2 430.0,554.0 429.6,559.0 427.0,564.0" fill="#111" stroke="none" />
<path d="M610.0,743.5 L610.0,830.6" stroke="#333" stroke-width="2.6" />
<path d="M610.0,743.5 L651.6,757.4 L651.6,814.5 L610.0,830.6" stroke="#333" stroke-width="2.7" />
<path d="M611.6,801.6 L651.6,814.5" stroke="#333" stroke-width="2.7" />
<path d="M804.0,11.4 C688,13.5 585.0,167 585.0,322" stroke="#0a0a0a" stroke-width="2.43" />
<polygon points="585.0,338.5 578.7,319.5 591.3,319.5" fill="#0a0a0a" stroke="none" />
<path d="M56.0,334.0 C59.2,494.6 298.0,566.0 455.0,570.7" stroke="#0a0a0a" stroke-width="2.43" />
<polygon points="468.5,570.7 453.4,576.9 453.6,563.9" fill="#0a0a0a" stroke="none" />
<path d="M20.0,557.5 C44.2,598.6 273.9,600.5 376.0,601.5" stroke="#0a0a0a" stroke-width="2.43" />
<polygon points="392.4,601.5 374.4,607.1 374.4,595.9" fill="#0a0a0a" stroke="none" />
<path d="M694.5,456.0 C691.3,520.3 606.1,554.0 521.0,562.5" stroke="#0a0a0a" stroke-width="2.43" />
<polygon points="503.8,562.5 521.3,556.2 521.3,568.8" fill="#0a0a0a" stroke="none" />
<path d="M732.0,645.0 C704.5,610.6 560,608.5 526.0,607.8" stroke="#0a0a0a" stroke-width="2.43" />
<polygon points="508.8,607.3 526.4,602.1 526.2,613.2" fill="#0a0a0a" stroke="none" />
<path d="M809.7,733.0 C750.8,733.6 660.3,752.8 641.3,785.5" stroke="#0a0a0a" stroke-width="2.43" />
<polygon points="633.2,799.6 635.2,780.6 646.7,786.1" fill="#0a0a0a" stroke="none" />
<text transform="translate(837.5,25.5) scale(1,1.12)" x="0" y="0" font-size="26" fill="#111" stroke="none">1</text>
<text transform="translate(46,318.5) scale(1,1.12)" x="0" y="0" font-size="26" fill="#111" stroke="none">11</text>
<text transform="translate(699,456.5) scale(1,1.12)" x="0" y="0" font-size="26" fill="#111" stroke="none">2</text>
<text transform="translate(2.5,539.5) scale(1,1.12)" x="0" y="0" font-size="26" fill="#111" stroke="none">12</text>
<text transform="translate(727,676.5) scale(1,1.12)" x="0" y="0" font-size="26" fill="#111" stroke="none">13</text>
<text transform="translate(825.5,741.5) scale(1,1.12)" x="0" y="0" font-size="26" fill="#111" stroke="none">14</text>
</g>
</svg>
</body></html>
